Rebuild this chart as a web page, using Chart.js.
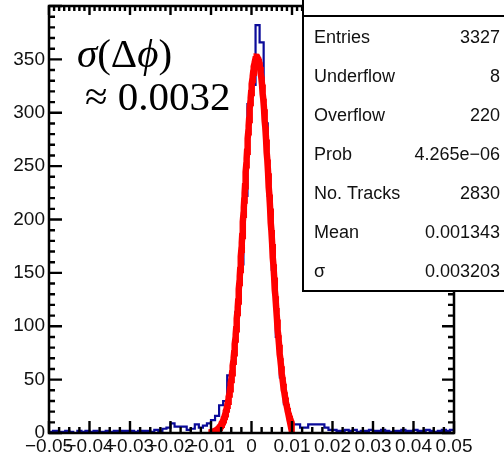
<!DOCTYPE html>
<html>
<head>
<meta charset="utf-8">
<script src="https://cdn.jsdelivr.net/npm/chart.js@4/dist/chart.umd.min.js"></script>
<style>
  html, body { margin: 0; padding: 0; background: #fff; }
  #wrap { width: 504px; height: 456px; }
</style>
</head>
<body>
<div id="wrap"><canvas id="c" width="504" height="456"></canvas></div>
<script>
// Δφ residual histogram: 100 bins on [-0.05, 0.05]
const X_MIN = -0.05;
const X_MAX = 0.05;
const BIN_WIDTH = 0.001;
const BIN_COUNTS = [
  1, 2, 1, 1, 2, 1, 0, 2, 1, 2,
  1, 2, 1, 1, 2, 1, 2, 1, 2, 2,
  2, 1, 2, 2, 2, 1, 3, 2, 4, 5,
  9, 6, 6, 6, 3, 4, 8, 5, 7, 9,
  12, 16, 26, 30, 54, 66, 113, 158, 222, 308,
  326, 382, 366, 290, 222, 153, 90, 52, 27, 12,
  8, 8, 5, 5, 8, 8, 8, 8, 5, 3,
  3, 2, 2, 3, 2, 3, 1, 2, 2, 3,
  2, 2, 3, 2, 1, 2, 2, 3, 2, 2,
  3, 2, 2, 3, 2, 1, 2, 3, 2, 3
];

// Axis tick values
const X_TICKS = [-0.05, -0.04, -0.03, -0.02, -0.01, 0, 0.01, 0.02, 0.03, 0.04, 0.05];
const Y_TICKS = [0, 50, 100, 150, 200, 250, 300, 350];
const Y_MAX = 400;

// Gaussian fit result and statistics box
const FIT_MEAN = 0.001343;
const FIT_SIGMA = 0.003203;
const N_TRACKS = 2830;
const FIT_RANGE = [-0.01, 0.01];
const STAT_LABELS = ['Entries', 'Underflow', 'Overflow', 'Prob', 'No. Tracks', 'Mean', 'σ'];
const STAT_VALUES = ['3327', '8', '220', '4.265e\u221206', '2830', '0.001343', '0.003203'];

// Step outline: one point per lower bin edge plus the closing upper edge
const histPoints = BIN_COUNTS.map((v, i) => ({ x: X_MIN + i * BIN_WIDTH, y: v }));
histPoints.push({ x: X_MAX, y: BIN_COUNTS[BIN_COUNTS.length - 1] });

// Fitted Gaussian, normalised to the track count per bin
const fitAmp = N_TRACKS * BIN_WIDTH / (FIT_SIGMA * Math.sqrt(2 * Math.PI));
const fitPoints = [];
for (let i = 0; i <= 200; i++) {
  const x = FIT_RANGE[0] + (FIT_RANGE[1] - FIT_RANGE[0]) * i / 200;
  const z = (x - FIT_MEAN) / FIT_SIGMA;
  fitPoints.push({ x: x, y: fitAmp * Math.exp(-0.5 * z * z) });
}

function fmtX(v) {
  const r = Math.round(v * 100) / 100;
  if (r === 0) return '0';
  const s = Math.abs(r).toFixed(2);
  return (r < 0 ? '\u2212' : '') + s;
}

// Frame with inward ticks on all four sides
const framePlugin = {
  id: 'frame',
  afterDatasetsDraw(chart) {
    const { ctx, chartArea: a, scales } = chart;
    const xs = scales.x, ys = scales.y;
    ctx.save();
    ctx.strokeStyle = '#000';
    ctx.lineCap = 'butt';
    ctx.lineWidth = 2.5;
    ctx.strokeRect(a.left, a.top, a.right - a.left, a.bottom - a.top);
    ctx.lineWidth = 2.4;
    ctx.beginPath();
    // bottom and top
    for (let k = 0; k <= 40; k++) {
      const v = X_MIN + k * 0.0025;
      const px = xs.getPixelForValue(v);
      const lb = k % 4 === 0 ? 12 : 6;
      ctx.moveTo(px, a.bottom); ctx.lineTo(px, a.bottom - lb);
    }
    for (let k = 0; k <= 80; k++) {
      const v = X_MIN + k * 0.00125;
      const px = xs.getPixelForValue(v);
      const lt = k % 8 === 0 ? 9 : 5;
      ctx.moveTo(px, a.top); ctx.lineTo(px, a.top + lt);
    }
    // left and right
    for (let v = 0; v <= Y_MAX; v += 10) {
      const py = ys.getPixelForValue(v);
      const major = v % 50 === 0;
      ctx.moveTo(a.left, py); ctx.lineTo(a.left + (major ? 13 : 6), py);
      ctx.moveTo(a.right, py); ctx.lineTo(a.right - (major ? 12 : 6), py);
    }
    ctx.stroke();
    ctx.restore();
  },
  afterDraw(chart) {
    const { ctx } = chart;
    ctx.save();
    // statistics box
    const bx = 303, by = 16, bw = 210, bh = 275;
    ctx.fillStyle = '#fff';
    ctx.fillRect(bx, 0, bw, by + bh);
    ctx.strokeStyle = '#000';
    ctx.lineWidth = 2;
    ctx.beginPath();
    ctx.moveTo(bx, 0); ctx.lineTo(bx, by + bh);
    ctx.lineTo(bx + bw, by + bh);
    ctx.moveTo(bx, by); ctx.lineTo(bx + bw, by);
    ctx.stroke();
    ctx.fillStyle = '#111';
    ctx.font = '18px "Liberation Sans", Arial, sans-serif';
    ctx.textBaseline = 'middle';
    for (let i = 0; i < STAT_LABELS.length; i++) {
      const y = 38 + i * 39;
      ctx.textAlign = 'left';
      ctx.fillText(STAT_LABELS[i], 314, y);
      ctx.textAlign = 'right';
      ctx.fillText(STAT_VALUES[i], 500, y);
    }
    // resolution annotation
    ctx.fillStyle = '#000';
    ctx.textAlign = 'left';
    ctx.textBaseline = 'alphabetic';
    const serif = '"Liberation Serif", "DejaVu Serif", serif';
    let x = 77;
    const y1 = 67;
    const parts = [['italic', 'σ'], ['normal', '('], ['normal', 'Δ'], ['italic', 'ϕ'], ['normal', ')']];
    for (const [st, t] of parts) {
      ctx.font = st + ' 41px ' + serif;
      ctx.fillText(t, x, y1);
      x += ctx.measureText(t).width;
    }
    ctx.font = '41px ' + serif;
    ctx.fillText('\u2248 0.0032', 85, 110);
    ctx.restore();
  }
};

new Chart(document.getElementById('c'), {
  type: 'line',
  data: {
    datasets: [
      {
        label: 'Δφ',
        data: histPoints,
        stepped: 'before',
        borderColor: '#0b0b9a',
        borderWidth: 2.2,
        pointRadius: 0,
        fill: false,
        order: 2
      },
      {
        label: 'Gaussian fit',
        data: fitPoints,
        borderColor: '#ff0000',
        borderWidth: 6.5,
        pointRadius: 0,
        fill: false,
        tension: 0,
        order: 1
      }
    ]
  },
  options: {
    responsive: false,
    animation: false,
    events: [],
    layout: { padding: { left: 0, right: 50, top: 6, bottom: 0 } },
    plugins: { legend: { display: false }, tooltip: { enabled: false } },
    scales: {
      x: {
        type: 'linear',
        min: X_MIN,
        max: X_MAX,
        grid: { display: false, drawTicks: false },
        border: { display: false },
        afterBuildTicks(s) { s.ticks = X_TICKS.map(v => ({ value: v })); },
        afterFit(s) { s.height = 23; s.paddingLeft = 0; s.paddingRight = 0; },
        ticks: {
          autoSkip: false,
          maxRotation: 0,
          padding: 2,
          color: '#111',
          font: { family: '"Liberation Sans", Arial, sans-serif', size: 19 },
          callback: v => fmtX(v)
        }
      },
      y: {
        type: 'linear',
        min: 0,
        max: Y_MAX,
        grid: { display: false, drawTicks: false },
        border: { display: false },
        afterBuildTicks(s) { s.ticks = Y_TICKS.map(v => ({ value: v })); },
        afterFit(s) { s.width = 49; s.paddingTop = 0; s.paddingBottom = 0; },
        ticks: {
          padding: 4,
          color: '#111',
          font: { family: '"Liberation Sans", Arial, sans-serif', size: 19 },
          callback: v => String(v)
        }
      }
    }
  },
  plugins: [framePlugin]
});
</script>
</body>
</html>
